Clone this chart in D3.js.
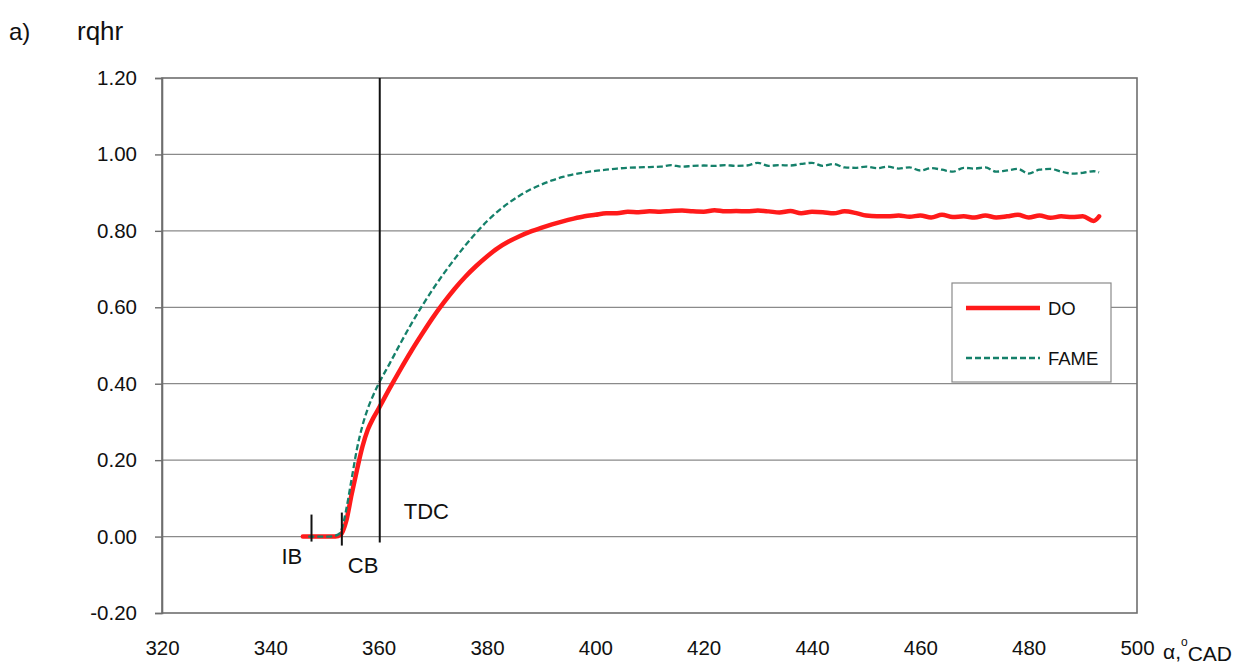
<!DOCTYPE html>
<html>
<head>
<meta charset="utf-8">
<script src="https://cdn.jsdelivr.net/npm/d3@7"></script>
<style>
  body { margin: 0; background: #fff; }
  text { font-family: "Liberation Sans", Arial, sans-serif; fill: #111; }
</style>
</head>
<body>
<div id="graph"></div>
<script>
// crank angle values, deg CAD
var doAngle = [346, 348, 350, 352, 353, 354, 355, 356, 357, 358, 359, 360, 362, 364, 366, 368, 370, 372, 374, 376,
  378, 380, 382, 384, 386, 388, 390, 392, 394, 396, 398, 400, 402, 404, 406, 408, 410, 412, 414, 416,
  418, 420, 422, 424, 426, 428, 430, 432, 434, 436, 438, 440, 442, 444, 446, 448, 450, 452, 454, 456,
  458, 460, 462, 464, 466, 468, 470, 472, 474, 476, 478, 480, 482, 484, 486, 488, 490, 492, 493];
var doValues = [0.00, 0.00, 0.00, 0.00, 0.005, 0.04, 0.11, 0.175, 0.235, 0.28, 0.31, 0.335, 0.387, 0.437, 0.485, 0.53, 0.573, 0.612, 0.648, 0.68,
  0.708, 0.733, 0.755, 0.772, 0.786, 0.798, 0.808, 0.817, 0.825, 0.832, 0.838, 0.842, 0.846, 0.846, 0.85, 0.849, 0.851, 0.85, 0.852, 0.853,
  0.851, 0.85, 0.854, 0.851, 0.852, 0.851, 0.853, 0.851, 0.848, 0.852, 0.846, 0.85, 0.849, 0.846, 0.851, 0.847, 0.84, 0.838, 0.838, 0.84,
  0.837, 0.84, 0.835, 0.842, 0.836, 0.838, 0.835, 0.84, 0.835, 0.838, 0.842, 0.835, 0.84, 0.834, 0.838, 0.836, 0.838, 0.826, 0.838];

var fameAngle = [347, 349, 351, 352.5, 353.2, 354, 355, 356, 357, 358, 359, 360, 362, 364, 366, 368, 370, 372, 374, 376,
  378, 380, 382, 384, 386, 388, 390, 392, 394, 396, 398, 400, 402, 404, 406, 408, 410, 412, 414, 416,
  418, 420, 422, 424, 426, 428, 430, 432, 434, 436, 438, 440, 442, 444, 446, 448, 450, 452, 454, 456,
  458, 460, 462, 464, 466, 468, 470, 472, 474, 476, 478, 480, 482, 484, 486, 488, 490, 492, 493];
var fameValues = [0.00, 0.00, 0.00, 0.005, 0.02, 0.07, 0.15, 0.23, 0.29, 0.335, 0.37, 0.40, 0.452, 0.505, 0.556, 0.603, 0.647, 0.688, 0.726, 0.762,
  0.795, 0.825, 0.851, 0.873, 0.892, 0.908, 0.921, 0.932, 0.941, 0.948, 0.953, 0.957, 0.96, 0.963, 0.965, 0.966, 0.967, 0.968, 0.972, 0.968,
  0.97, 0.971, 0.97, 0.972, 0.97, 0.971, 0.978, 0.97, 0.972, 0.971, 0.975, 0.978, 0.97, 0.975, 0.966, 0.965, 0.968, 0.964, 0.968, 0.963,
  0.966, 0.958, 0.964, 0.96, 0.955, 0.965, 0.963, 0.966, 0.955, 0.958, 0.962, 0.95, 0.96, 0.962, 0.955, 0.95, 0.952, 0.956, 0.953];

var xTicks = [320, 340, 360, 380, 400, 420, 440, 460, 480, 500];
var yTicks = [-0.2, 0, 0.2, 0.4, 0.6, 0.8, 1.0, 1.2];

// markers: injection begin, combustion begin, top dead centre
var markerNames = ["IB", "CB", "TDC"];
var markerAngles = [347.6, 353.2, 360.2];

var seriesNames = ["DO", "FAME"];

var svgWidth = 1252, svgHeight = 666;
var margin = {top: 78, right: 115, bottom: 53, left: 162};
var chartWidth = svgWidth - margin.left - margin.right;
var chartHeight = svgHeight - margin.top - margin.bottom;

var svg = d3.select("#graph").append("svg")
  .attr("width", svgWidth)
  .attr("height", svgHeight);

var x = d3.scaleLinear().domain([320, 500]).range([0, chartWidth]);
var y = d3.scaleLinear().domain([-0.2, 1.2]).range([chartHeight, 0]);

var chartGroup = svg.append("g")
  .attr("transform", `translate(${margin.left}, ${margin.top})`);

// gridlines
chartGroup.selectAll(".grid").data(yTicks.slice(1, -1)).enter()
  .append("line")
  .attr("x1", 0).attr("x2", chartWidth)
  .attr("y1", d => y(d)).attr("y2", d => y(d))
  .attr("stroke", "#8a8a8a").attr("stroke-width", 1.2);

// frame
chartGroup.append("rect")
  .attr("width", chartWidth).attr("height", chartHeight)
  .attr("fill", "none").attr("stroke", "#6e6e6e").attr("stroke-width", 1.6);

// y axis, plain hyphen for the minus
var fmt2 = d3.format(".2f");
var yAxis = d3.axisLeft(y).tickValues(yTicks)
  .tickFormat(d => fmt2(d).replace("\u2212", "-"))
  .tickSize(7).tickPadding(18);
var yG = chartGroup.append("g").call(yAxis);
yG.select(".domain").attr("stroke", "#6e6e6e").attr("stroke-width", 1.6);
yG.selectAll(".tick line").attr("stroke", "#6e6e6e").attr("stroke-width", 1.4);
yG.selectAll("text").style("font-size", "20.5px").attr("fill", "#111");

// x axis labels only
var xAxis = d3.axisBottom(x).tickValues(xTicks).tickFormat(d3.format("d")).tickSize(0).tickPadding(27);
var xG = chartGroup.append("g").attr("transform", `translate(0, ${chartHeight})`).call(xAxis);
xG.select(".domain").remove();
xG.selectAll("text").style("font-size", "20.5px").attr("fill", "#111");

// axis titles
svg.append("text").attr("x", 9).attr("y", 40).style("font-size", "24px").text("a)");
svg.append("text").attr("x", 77).attr("y", 40).style("font-size", "26px").text("rqhr");
var xTitle = svg.append("text").attr("x", 1163).attr("y", 659).style("font-size", "21px");
xTitle.append("tspan").text("α,");
xTitle.append("tspan").attr("dy", -13).style("font-size", "12px").text("o");
xTitle.append("tspan").attr("dy", 15).text("CAD");

// series
var line = d3.line().x(d => x(d[0])).y(d => y(d[1])).curve(d3.curveMonotoneX);
var doData = d3.zip(doAngle, doValues);
var fameData = d3.zip(fameAngle, fameValues);

chartGroup.append("path").datum(doData)
  .attr("d", line).attr("fill", "none")
  .attr("stroke", "#ff1a1a").attr("stroke-width", 4.5)
  .attr("stroke-linejoin", "round").attr("stroke-linecap", "round");

chartGroup.append("path").datum(fameData)
  .attr("d", line).attr("fill", "none")
  .attr("stroke", "#15806a").attr("stroke-width", 2.3)
  .attr("stroke-dasharray", "6,3");

// markers
var y0 = y(0);
chartGroup.append("line")
  .attr("x1", x(markerAngles[0])).attr("x2", x(markerAngles[0]))
  .attr("y1", y0 - 22).attr("y2", y0 + 5)
  .attr("stroke", "#111").attr("stroke-width", 2);
chartGroup.append("line")
  .attr("x1", x(markerAngles[1])).attr("x2", x(markerAngles[1]))
  .attr("y1", y0 - 24).attr("y2", y0 + 9)
  .attr("stroke", "#111").attr("stroke-width", 2);
chartGroup.append("line")
  .attr("x1", x(markerAngles[2])).attr("x2", x(markerAngles[2]))
  .attr("y1", 0).attr("y2", y0 + 6)
  .attr("stroke", "#111").attr("stroke-width", 2);

chartGroup.append("text").attr("x", x(markerAngles[0]) - 30).attr("y", y0 + 27)
  .style("font-size", "22px").text(markerNames[0]);
chartGroup.append("text").attr("x", x(markerAngles[1]) + 6).attr("y", y0 + 36)
  .style("font-size", "22px").text(markerNames[1]);
chartGroup.append("text").attr("x", x(markerAngles[2]) + 24).attr("y", y0 - 18)
  .style("font-size", "22px").text(markerNames[2]);

// legend
var legend = svg.append("g").attr("transform", "translate(952, 283)");
legend.append("rect").attr("width", 159).attr("height", 99)
  .attr("fill", "#fff").attr("stroke", "#8a8a8a").attr("stroke-width", 1.2);
legend.append("line").attr("x1", 14).attr("x2", 88).attr("y1", 25).attr("y2", 25)
  .attr("stroke", "#ff1a1a").attr("stroke-width", 4.5);
legend.append("line").attr("x1", 14).attr("x2", 88).attr("y1", 75).attr("y2", 75)
  .attr("stroke", "#15806a").attr("stroke-width", 2.3).attr("stroke-dasharray", "6,3");
legend.append("text").attr("x", 96).attr("y", 32).style("font-size", "18.5px").text(seriesNames[0]);
legend.append("text").attr("x", 96).attr("y", 82).style("font-size", "18.5px").text(seriesNames[1]);
</script>
</body>
</html>
